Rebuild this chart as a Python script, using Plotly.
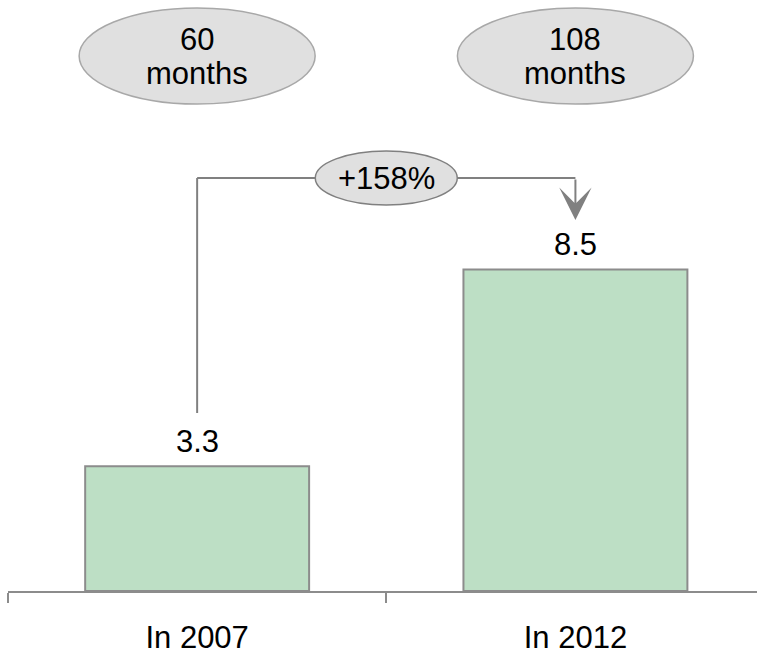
import plotly.graph_objects as go

# --- data -----------------------------------------------------------------
categories = ["In 2007", "In 2012"]
values = [3.3, 8.5]
durations = ["60", "108"]
duration_unit = "months"

# --- style ----------------------------------------------------------------
FONT = "Arial, 'Liberation Sans', sans-serif"
TEXT = "#000000"
GREEN = "#bddfc5"
OUTLINE = "#8c8c8c"
PILL = "#e0e0e0"
PILL_EDGE = "#a8a8a8"
LINK = "#808080"
FS = 31

W, H = 757, 654
M_L, M_R, M_T, M_B = 8, 0, 0, 63
X_RANGE = [-0.5, 1.48]
Y_TOP = 15.63

plot_h = H - M_T - M_B
plot_w = W - M_L - M_R
ppu_y = plot_h / Y_TOP
ppu_x = plot_w / (X_RANGE[1] - X_RANGE[0])


def y_at(px):
    """Data y for a pixel row of the page."""
    return (M_T + plot_h - px) / ppu_y


def dx(px):
    """Data width for a horizontal pixel distance."""
    return px / ppu_x


change = (values[1] - values[0]) / values[0] * 100
change_label = f"+{change:.0f}%"

fig = go.Figure(
    go.Bar(
        x=categories,
        y=values,
        width=0.592,
        marker=dict(color=GREEN, line=dict(color=OUTLINE, width=2)),
        hoverinfo="skip",
    )
)

shapes = []
annotations = []

# value labels above the bars
for i, v in enumerate(values):
    annotations.append(dict(
        x=i, y=v, xref="x", yref="y", text=f"{v}", showarrow=False,
        yanchor="middle", yshift=25, font=dict(family=FONT, size=FS, color=TEXT),
    ))

# duration pills at the top
for i, d in enumerate(durations):
    shapes.append(dict(
        type="circle", xref="x", yref="y",
        x0=i - dx(118), x1=i + dx(118), y0=y_at(104), y1=y_at(8),
        fillcolor=PILL, line=dict(color=PILL_EDGE, width=1.5), layer="below",
    ))
    annotations.append(dict(
        x=i, y=y_at(39), xref="x", yref="y", text=d, showarrow=False,
        yanchor="middle", font=dict(family=FONT, size=FS, color=TEXT),
    ))
    annotations.append(dict(
        x=i, y=y_at(73), xref="x", yref="y", text=duration_unit, showarrow=False,
        yanchor="middle", font=dict(family=FONT, size=FS, color=TEXT),
    ))

# growth connector between the two bars
link_y = y_at(178)
mid = 0.5
half = dx(71)
shapes += [
    dict(type="line", xref="x", yref="y", x0=0, x1=0, y0=y_at(413), y1=link_y,
         line=dict(color=LINK, width=2)),
    dict(type="line", xref="x", yref="y", x0=0, x1=mid - half, y0=link_y, y1=link_y,
         line=dict(color=LINK, width=2)),
    dict(type="line", xref="x", yref="y", x0=mid + half, x1=1, y0=link_y, y1=link_y,
         line=dict(color=LINK, width=2)),
    dict(type="circle", xref="x", yref="y",
         x0=mid - half, x1=mid + half, y0=y_at(205), y1=y_at(151),
         fillcolor=PILL, line=dict(color=LINK, width=1.5)),
]
annotations.append(dict(
    x=mid, y=link_y, xref="x", yref="y", text=change_label, showarrow=False,
    yanchor="middle", font=dict(family=FONT, size=FS, color=TEXT),
))
annotations.append(dict(
    x=1, y=y_at(220), xref="x", yref="y", ax=1, ay=link_y, axref="x", ayref="y",
    text="", showarrow=True, arrowhead=3, arrowsize=2.7, arrowwidth=2,
    arrowcolor=LINK, standoff=0,
))

fig.update_layout(
    width=W, height=H,
    margin=dict(l=M_L, r=M_R, t=M_T, b=M_B),
    paper_bgcolor="white", plot_bgcolor="white",
    showlegend=False,
    shapes=shapes,
    annotations=annotations,
    xaxis=dict(
        type="category", range=X_RANGE, tickson="boundaries",
        ticks="outside", ticklen=10, tickwidth=1.5, tickcolor=OUTLINE,
        showline=True, linecolor=OUTLINE, linewidth=1.5,
        showgrid=False, zeroline=False, fixedrange=True, automargin=False,
        tickfont=dict(family=FONT, size=FS, color=TEXT),
        ticklabelstandoff=18,
    ),
    yaxis=dict(range=[0, Y_TOP], visible=False, fixedrange=True),
)

fig.write_html("out.html")
